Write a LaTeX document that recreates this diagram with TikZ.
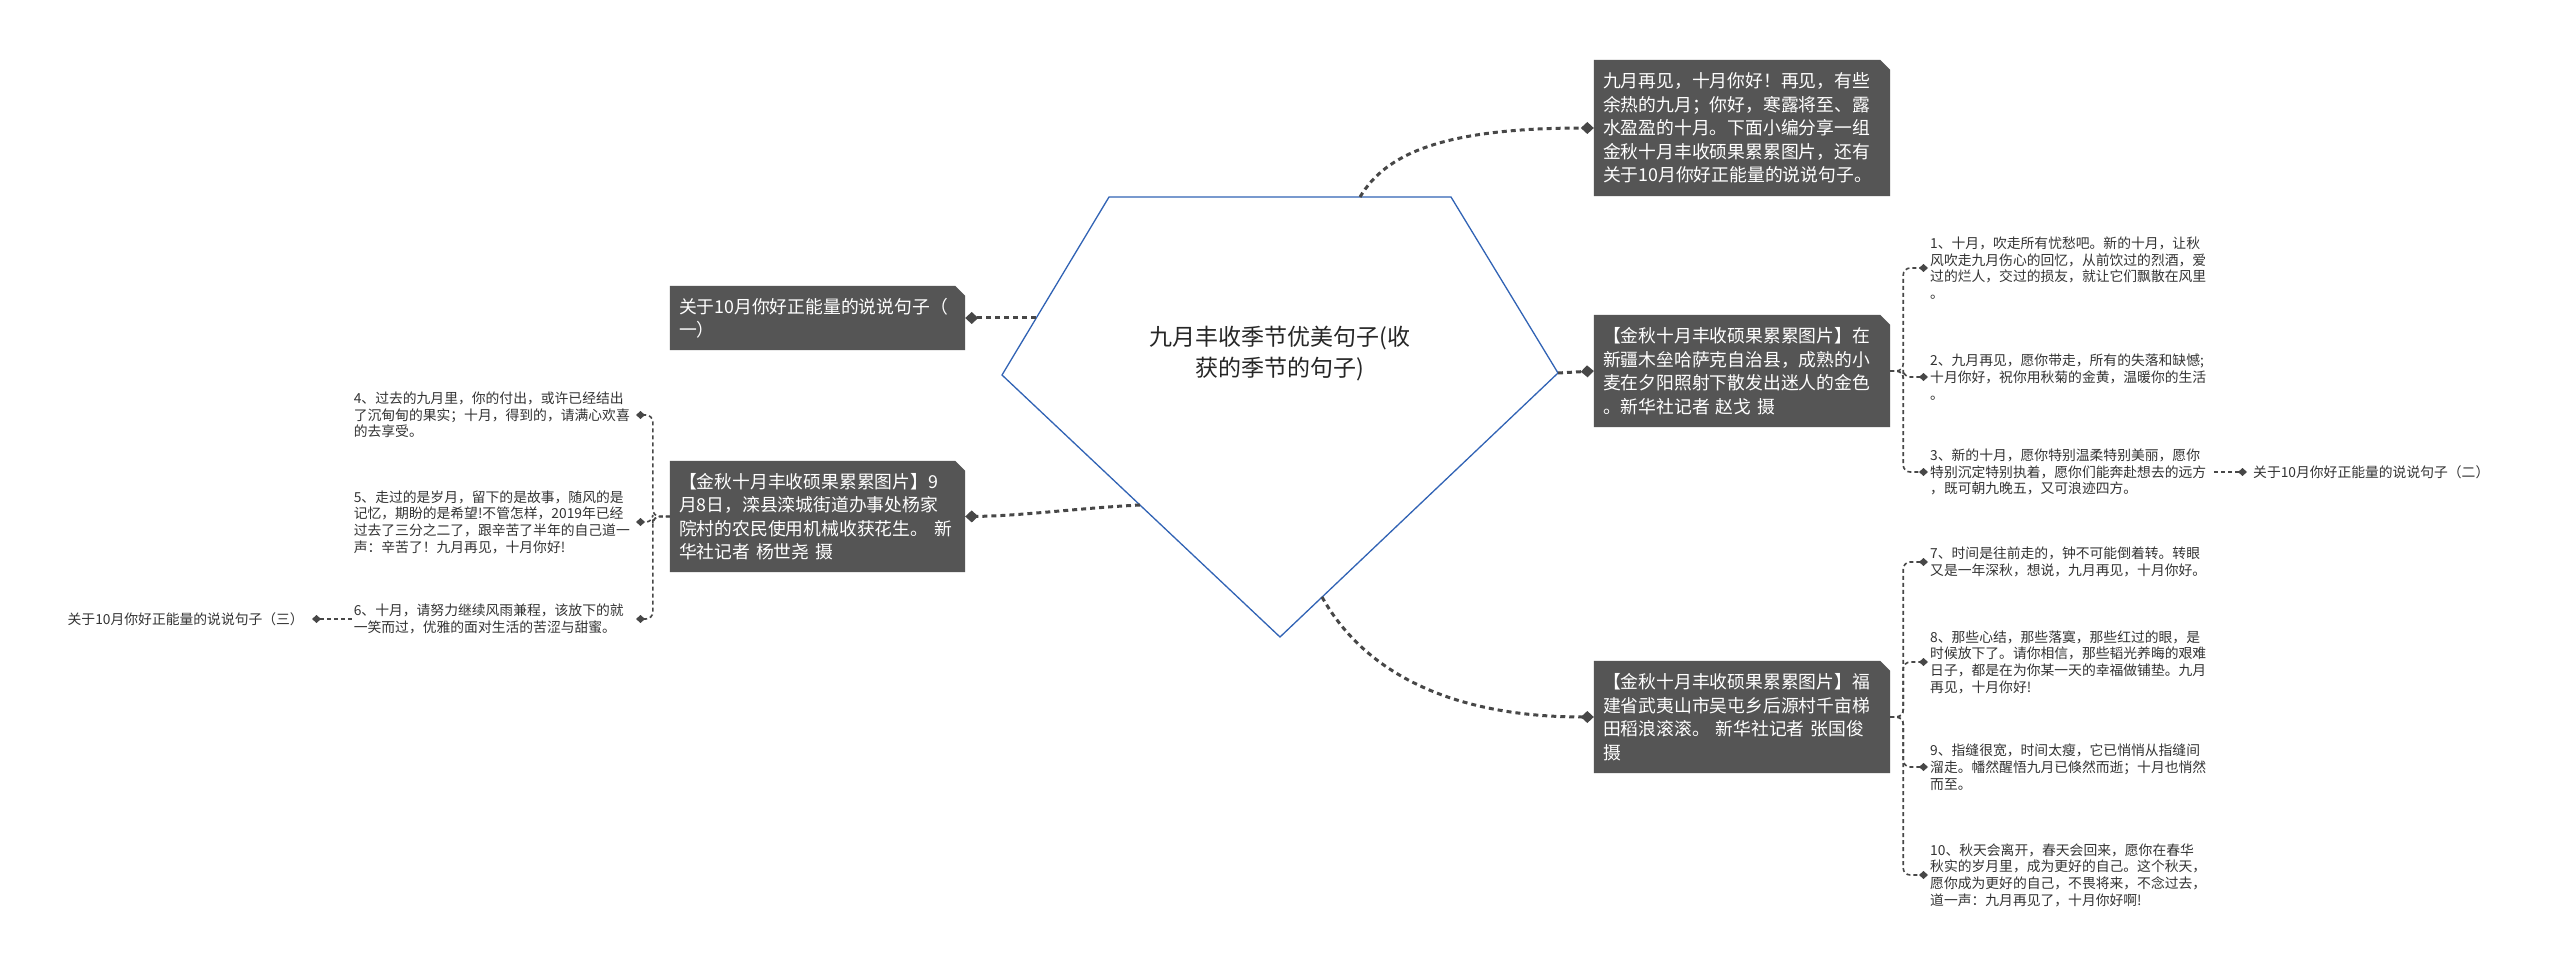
\documentclass[tikz,border=0pt]{standalone}
\usepackage{fontspec}
\setmainfont{Noto Sans CJK SC}
\usetikzlibrary{arrows.meta,backgrounds}
\definecolor{boxgray}{HTML}{555555}
\definecolor{linegray}{HTML}{474747}
\definecolor{pentblue}{HTML}{3163B5}
\definecolor{leaftext}{HTML}{333333}
\newcommand\cutboxbg[1]{\fill[boxgray] (#1.north west) -- ([xshift=-10pt]#1.north east) -- ([yshift=-10pt]#1.north east) -- (#1.south east) -- (#1.south west) -- cycle;}
\begin{document}
\begin{tikzpicture}[x=1pt,y=-1pt,
  box/.style={text width=278pt, inner xsep=9pt, inner ysep=0pt, align=left, text=white, font=\fontsize{17.8}{23.5}\selectfont},
  leaf/.style={font=\fontsize{13.8}{16.7}\selectfont, text=leaftext, align=left, inner xsep=2pt, inner ysep=0pt},
  mainline/.style={draw=linegray, line width=3pt, dash pattern=on 5pt off 4pt, -{Diamond[length=13pt,width=12pt]}},
  leafline/.style={draw=linegray, line width=1.6pt, dash pattern=on 4pt off 3pt, rounded corners=7pt, -{Diamond[length=9pt,width=8pt]}}
]
\useasboundingbox (0,0) rectangle (2560,976);

% central pentagon
\coordinate (v1) at (1109,197);
\coordinate (v2) at (1451,197);
\coordinate (v3) at (1558,373);
\coordinate (v4) at (1280,637);
\coordinate (v5) at (1002,375);
\draw[pentblue, line width=1.3pt] (v1) -- (v2) -- (v3) -- (v4) -- (v5) -- cycle;
\node[font=\fontsize{23}{31}\selectfont, align=center, text=black!85] (center) at (1280,354) {九月丰收季节优美句子(收\\获的季节的句子)};
\coordinate (pTop) at (1360,197);
\coordinate (pR) at (1558,373);
\coordinate (pBR) at (1322,597);
\coordinate (pL1) at (1036,318);
\coordinate (pL2) at (1140,505);

% main boxes
\node[box, minimum height=136pt] (tr) at (1742,128) {九月再见，十月你好！再见，有些\\余热的九月；你好，寒露将至、露\\水盈盈的十月。下面小编分享一组\\金秋十月丰收硕果累累图片，还有\\关于10月你好正能量的说说句子。};
\node[box, minimum height=112pt] (mr) at (1742,371) {【金秋十月丰收硕果累累图片】在\\新疆木垒哈萨克自治县，成熟的小\\麦在夕阳照射下散发出迷人的金色\\。新华社记者 赵戈 摄};
\node[box, minimum height=112pt] (br) at (1742,717) {【金秋十月丰收硕果累累图片】福\\建省武夷山市吴屯乡后源村千亩梯\\田稻浪滚滚。 新华社记者 张国俊\\摄};
\node[box, text width=277pt, minimum height=64pt] (l1) at (817.5,318) {关于10月你好正能量的说说句子（\\一）};
\node[box, text width=277pt, minimum height=111pt] (l2) at (817.5,516.5) {【金秋十月丰收硕果累累图片】9\\月8日，滦县滦城街道办事处杨家\\院村的农民使用机械收获花生。 新\\华社记者 杨世尧 摄};
\begin{scope}[on background layer]
\fill[white] (0,0) rectangle (2560,976);
\cutboxbg{tr}
\cutboxbg{mr}
\cutboxbg{br}
\cutboxbg{l1}
\cutboxbg{l2}
\end{scope}

% leaves right (middle box)
\node[leaf, text width=282pt, anchor=west] (r1) at (1928,268) {1、十月，吹走所有忧愁吧。新的十月，让秋\\风吹走九月伤心的回忆，从前饮过的烈酒，爱\\过的烂人，交过的损友，就让它们飘散在风里\\。};
\node[leaf, text width=282pt, anchor=west] (r2) at (1928,377) {2、九月再见，愿你带走，所有的失落和缺憾;\\十月你好，祝你用秋菊的金黄，温暖你的生活\\。};
\node[leaf, text width=282pt, anchor=west] (r3) at (1928,472) {3、新的十月，愿你特别温柔特别美丽，愿你\\特别沉定特别执着，愿你们能奔赴想去的远方\\，既可朝九晚五，又可浪迹四方。};
\node[leaf, inner xsep=6pt, anchor=west] (c2) at (2247,472) {关于10月你好正能量的说说句子（二）};

% leaves right (bottom box)
\node[leaf, text width=282pt, anchor=west] (r7) at (1928,562) {7、时间是往前走的，钟不可能倒着转。转眼\\又是一年深秋，想说，九月再见，十月你好。};
\node[leaf, text width=282pt, anchor=west] (r8) at (1928,662) {8、那些心结，那些落寞，那些红过的眼，是\\时候放下了。请你相信，那些韬光养晦的艰难\\日子，都是在为你某一天的幸福做铺垫。九月\\再见，十月你好!};
\node[leaf, text width=282pt, anchor=west] (r9) at (1928,767) {9、指缝很宽，时间太瘦，它已悄悄从指缝间\\溜走。幡然醒悟九月已倏然而逝；十月也悄然\\而至。};
\node[leaf, text width=282pt, anchor=west] (r10) at (1928,875) {10、秋天会离开，春天会回来，愿你在春华\\秋实的岁月里，成为更好的自己。这个秋天，\\愿你成为更好的自己，不畏将来，不念过去，\\道一声：九月再见了，十月你好啊!};

% leaves left
\node[leaf, text width=280pt, anchor=east] (k4) at (636,415) {4、过去的九月里，你的付出，或许已经结出\\了沉甸甸的果实；十月，得到的，请满心欢喜\\的去享受。};
\node[leaf, text width=280pt, anchor=east] (k5) at (636,522) {5、走过的是岁月，留下的是故事，随风的是\\记忆，期盼的是希望!不管怎样，2019年已经\\过去了三分之二了，跟辛苦了半年的自己道一\\声：辛苦了！九月再见，十月你好!};
\node[leaf, text width=280pt, anchor=east] (k6) at (636,619) {6、十月，请努力继续风雨兼程，该放下的就\\一笑而过，优雅的面对生活的苦涩与甜蜜。};
\node[leaf, inner xsep=8pt, anchor=east] (c3) at (312,619) {关于10月你好正能量的说说句子（三）};

% main connectors
\draw[mainline] (pTop) .. controls (1385,155) and (1440,128) .. (tr.west);
\draw[mainline] (pR) -- (mr.west);
\draw[mainline] (pBR) .. controls (1360,665) and (1440,717) .. (br.west);
\draw[mainline] (pL1) -- (l1.east);
\draw[mainline] (pL2) .. controls (1080,508) and (1020,516) .. (l2.east);

% leaf connectors
\draw[leafline] (mr.east) -- ++(13,0) |- (r1.west);
\draw[leafline] (mr.east) -- ++(13,0) |- (r2.west);
\draw[leafline] (mr.east) -- ++(13,0) |- (r3.west);
\draw[leafline] (r3.east) -- (c2.west);
\draw[leafline] (br.east) -- ++(13,0) |- (r7.west);
\draw[leafline] (br.east) -- ++(13,0) |- (r8.west);
\draw[leafline] (br.east) -- ++(13,0) |- (r9.west);
\draw[leafline] (br.east) -- ++(13,0) |- (r10.west);
\draw[leafline] (l2.west) -- ++(-17,0) |- (k4.east);
\draw[leafline] (l2.west) -- ++(-17,0) |- (k5.east);
\draw[leafline] (l2.west) -- ++(-17,0) |- (k6.east);
\draw[leafline] (k6.west) -- (c3.east);
\end{tikzpicture}
\end{document}
